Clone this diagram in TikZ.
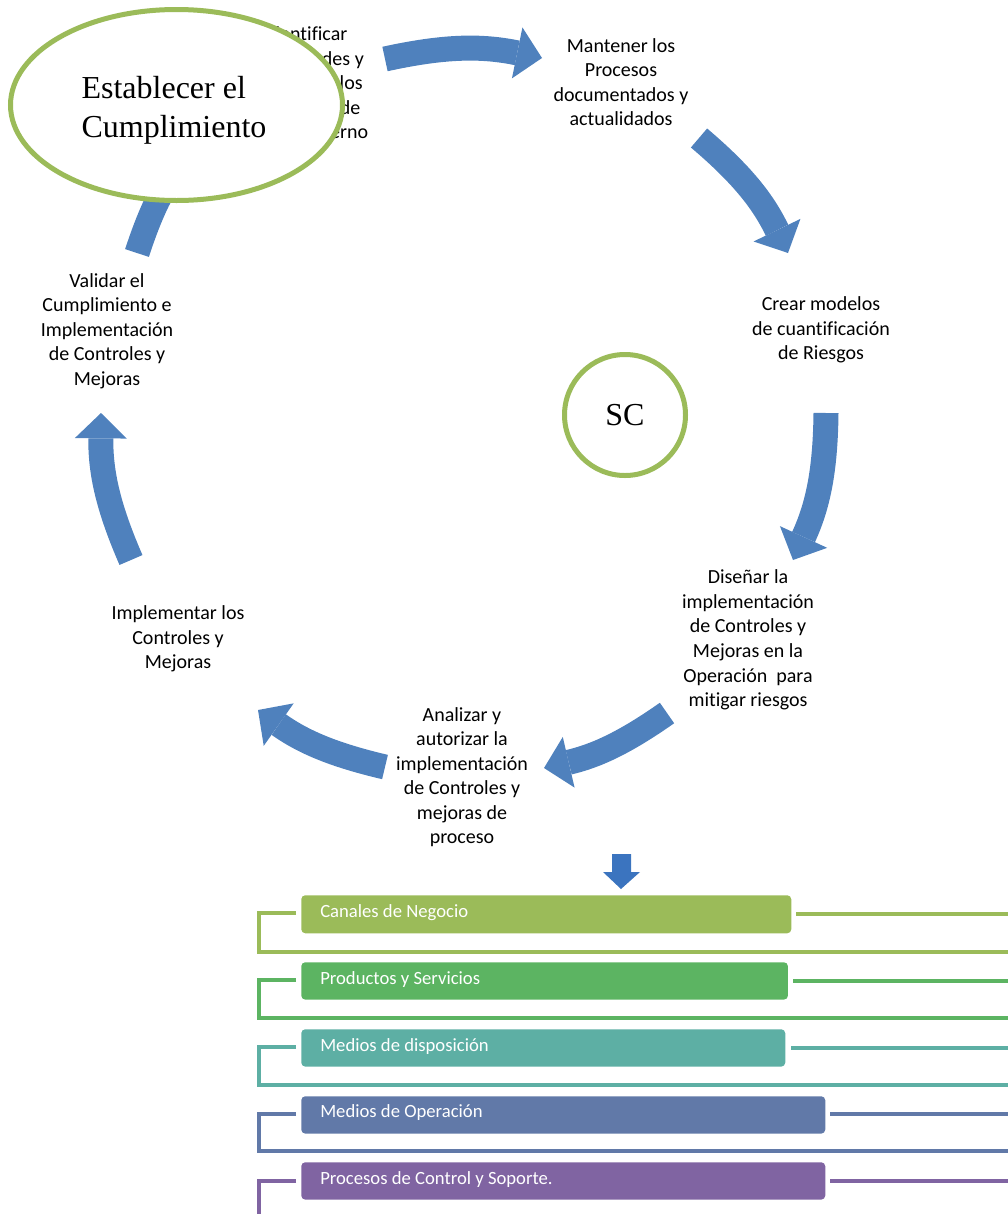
\documentclass[tikz,border=0pt]{standalone}
\usepackage{fontspec}
\setmainfont{Carlito}[Ligatures=NoCommon]
\newfontfamily\tnr{Liberation Serif}
\usetikzlibrary{arrows.meta, positioning}

\definecolor{azul}{HTML}{4F81BD}
\definecolor{verdeol}{HTML}{9BBB59}
\definecolor{c1}{HTML}{9BBB59}
\definecolor{c2}{HTML}{5CB462}
\definecolor{c3}{HTML}{5DAFA4}
\definecolor{c4}{HTML}{6179A8}
\definecolor{c5}{HTML}{8064A2}
\definecolor{flechita}{HTML}{3B74BF}

\begin{document}
\begin{tikzpicture} [
						x=0.75pt, y=-0.75pt,
						paso/.style={align=center, font=\fontsize{15}{18.4}\selectfont},
						flecha/.style={draw=azul, line width=18.75pt, -{Triangle[length=19pt, width=39pt, line width=0pt, fill=azul]}},
						anillo/.style={draw=verdeol, line width=3.75pt, fill=white},
						barra/.style={anchor=north west, rounded corners=3pt, inner sep=0pt},
						rotulo/.style={anchor=base west, inner sep=0pt, text=white, font=\fontsize{14}{16}\selectfont},
						linea/.style={line width=3pt}
					]

\useasboundingbox (0,0) rectangle (1007,1214);

\node (0) [paso] at (306,83) {Identificar\\Necesidades y\\Riesgos de los\\Operación de\\Control Interno};
\node (1) [paso] at (621,82) {Mantener los\\Procesos\\documentados y\\actualidados};
\node (2) [paso] at (821,330) {Crear modelos\\de cuantificación\\de Riesgos};
\node (3) [paso] at (748,640) {Diseñar la\\implementación\\de Controles y\\Mejoras en la\\Operación\ \ para\\mitigar riesgos};
\node (4) [paso] at (462,777) {Analizar y\\autorizar la\\implementación\\de Controles y\\mejoras de\\proceso};
\node (5) [paso] at (178,639) {Implementar los\\Controles y\\Mejoras};
\node (6) [paso] at (107,331) {Validar el\\Cumplimiento e\\Implementación\\de Controles y\\Mejoras};

\coordinate (s1) at (385,59);  \coordinate (t1) at (542,58);
\coordinate (s2) at (699,138); \coordinate (t2) at (788,253);
\coordinate (s3) at (826,413); \coordinate (t3) at (793,560);
\coordinate (s4) at (667,713); \coordinate (t4) at (544,768);
\coordinate (s5) at (385,767); \coordinate (t5) at (258,710);
\coordinate (s6) at (131,560); \coordinate (t6) at (101,413);
\coordinate (s7) at (137,253); \coordinate (t7) at (192,150);

\path
	(s1) edge [flecha, bend left=12] (t1)
	(s2) edge [flecha, bend left=12] (t2)
	(s3) edge [flecha, bend left=12] (t3)
	(s4) edge [flecha, bend left=11] (t4)
	(s5) edge [flecha, bend left=11] (t5)
	(s6) edge [flecha, bend left=12] (t6)
	(s7) edge [flecha, bend left=10] (t7);

\draw[anillo] (176.5,105) ellipse [x radius=166, y radius=95.5];
\node (est) [align=left, font=\tnr\fontsize{24}{29}\selectfont] at (174,110) {Establecer el\\Cumplimiento};

\draw[anillo] (625,415) circle [radius=60.5];
\node (sc) [font=\tnr\fontsize{24}{29}\selectfont] at (625,415) {SC};

\fill[flechita] (612,854) -- (631,854) -- (631,872) -- (640,872) -- (621,889) -- (603,872) -- (612,872) -- cycle;

% niveles
\draw[linea, c1] (296,913) -- (259,913) -- (259,952) -- (1010,952);
\draw[linea, c1] (796,914) -- (1010,914);
\node (n1) [barra, fill=c1, minimum width=367.5pt, minimum height=28.5pt] at (301,895) {};
\node (r1) [rotulo] at (320,917) {Canales de Negocio};

\draw[linea, c2] (296,980) -- (259,980) -- (259,1018) -- (1010,1018);
\draw[linea, c2] (793,981) -- (1010,981);
\node (n2) [barra, fill=c2, minimum width=365pt, minimum height=28pt] at (301,962) {};
\node (r2) [rotulo] at (320,984) {Productos y Servicios};

\draw[linea, c3] (296,1047) -- (259,1047) -- (259,1085) -- (1010,1085);
\draw[linea, c3] (791,1048) -- (1010,1048);
\node (n3) [barra, fill=c3, minimum width=363pt, minimum height=28pt] at (301,1029) {};
\node (r3) [rotulo] at (320,1051) {Medios de disposición};

\draw[linea, c4] (296,1114) -- (259,1114) -- (259,1151) -- (1010,1151);
\draw[linea, c4] (830,1114) -- (1010,1114);
\node (n4) [barra, fill=c4, minimum width=393pt, minimum height=28pt] at (301,1096) {};
\node (r4) [rotulo] at (320,1117) {Medios de Operación};

\draw[linea, c5] (296,1181) -- (259,1181) -- (259,1220);
\draw[linea, c5] (830,1181) -- (1010,1181);
\node (n5) [barra, fill=c5, minimum width=393pt, minimum height=28pt] at (301,1162) {};
\node (r5) [rotulo] at (320,1184) {Procesos de Control y Soporte.};

\end{tikzpicture}
\end{document}
